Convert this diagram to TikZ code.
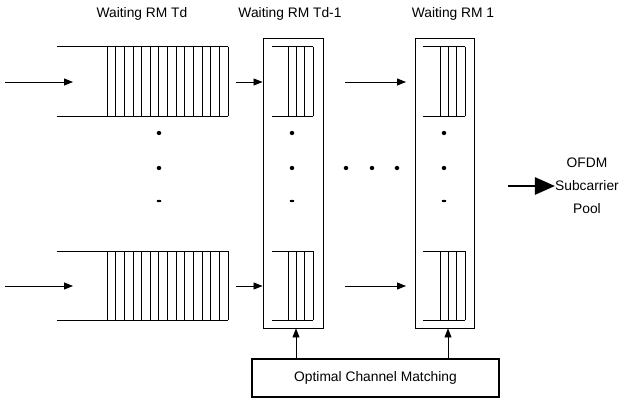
\documentclass[tikz,border=0pt]{standalone}
\usepackage{fontspec}
\setmainfont{Liberation Sans}
\usetikzlibrary{arrows.meta,shapes.geometric}
\newcommand\bigqueue[1]{%
  \draw[qline] (57,#1) -- (228,#1) (57,#1+69.3) -- (228,#1+69.3);
  \foreach \i in {0,...,14}{\draw[qline] (107+\i*8.64,#1) -- (107+\i*8.64,#1+69.3);}
}
\newcommand\smallqueue[3]{% left x, first line x, y top
  \draw[qline] (#1,#3) -- (#2+25,#3) (#1,#3+69.3) -- (#2+25,#3+69.3);
  \foreach \i in {0,...,3}{\draw[qline] (#2+\i*8.4,#3) -- (#2+\i*8.4,#3+69.3);}
}
\begin{document}
\begin{tikzpicture}[x=1pt,y=-1pt,
  qline/.style={line width=0.75pt},
  arr/.style={line width=0.8pt,-{Triangle[length=9pt,width=7pt]}},
  boxnode/.style={draw,line width=0.9pt,inner sep=0pt},
  title/.style={font=\fontsize{13.8}{16}\selectfont},
  dotmark/.style={fill,ellipse,inner sep=0pt,minimum width=4.6pt,minimum height=4.2pt},
  dashmark/.style={fill,ellipse,inner sep=0pt,minimum width=4.8pt,minimum height=2.4pt}]
\useasboundingbox (0,0) rectangle (627,401);
% titles
\node[title] (t1) at (142,14) {Waiting RM Td};
\node[title] (t2) at (290,14) {Waiting RM Td-1};
\node[title] (t3) at (453,14) {Waiting RM 1};
% boxes
\node[boxnode,minimum width=60pt,minimum height=290pt] (td1) at (293,183) {};
\node[boxnode,minimum width=59pt,minimum height=290pt] (b1) at (444.5,183) {};
\node[boxnode,line width=1.2pt,minimum width=247pt,minimum height=38pt,title] (ocm) at (375.5,378) {Optimal Channel Matching};
% queues
\bigqueue{46.7}
\bigqueue{251}
\smallqueue{272}{288}{46.7}
\smallqueue{272}{288}{251}
\smallqueue{423}{440}{46.7}
\smallqueue{423}{440}{251}
% arrows
\coordinate (in1) at (5,82); \coordinate (in1e) at (73,82);
\coordinate (in2) at (5,286); \coordinate (in2e) at (73,286);
\draw[arr] (in1) -- (in1e);
\draw[arr] (in2) -- (in2e);
\coordinate (q1) at (236,82); \coordinate (q2) at (236,286);
\draw[arr] (q1) -- (q1 -| td1.west);
\draw[arr] (q2) -- (q2 -| td1.west);
\coordinate (m1) at (345,82); \coordinate (m1e) at (406,82);
\coordinate (m2) at (345,286); \coordinate (m2e) at (406,286);
\draw[arr] (m1) -- (m1e);
\draw[arr] (m2) -- (m2e);
\draw[arr] (ocm.north -| 296,0) -- (td1.south -| 296,0);
\draw[arr] (ocm.north -| 448,0) -- (b1.south -| 448,0);
% OFDM
\coordinate (of) at (508,186);
\node[title,align=center,inner sep=0pt,font=\fontsize{13.8}{23}\selectfont] (pool) at (587,186) {OFDM\\Subcarrier\\Pool};
\draw[line width=2.6pt,-{Triangle[length=20pt,width=17pt]}] (of) -- (of -| pool.west);
% dots
\foreach \x in {159,292,444}{
  \node[dotmark] at (\x,133) {};
  \node[dotmark] at (\x,168) {};
  \node[dashmark] at (\x,201) {};
}
\foreach \x in {346,372,397}{\node[dotmark] at (\x,168) {};}
\end{tikzpicture}
\end{document}
